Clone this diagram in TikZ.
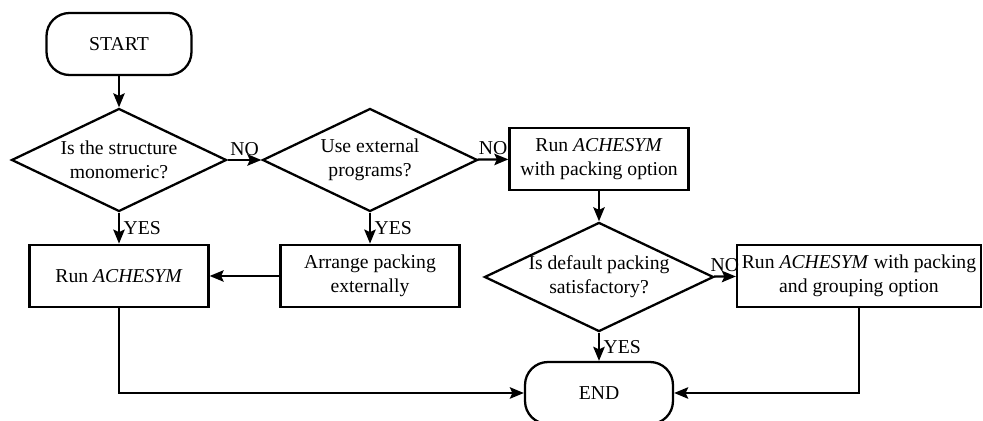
\documentclass[tikz,border=0pt]{standalone}
\usepackage{fontspec}
\setmainfont{Liberation Serif}
\usetikzlibrary{shapes.geometric,arrows.meta}
\begin{document}
\begin{tikzpicture}[
    x=0.02cm, y=-0.02cm,
    every node/.style={font=\fontsize{11.2}{13.6}\selectfont},
    every path/.style={line width=1.3pt},
    >={Stealth[length=8pt,width=6.5pt,inset=1.5pt]},
    terminal/.style={draw, rectangle, rounded corners=0.46cm,
        minimum width=2.9cm, minimum height=1.24cm, inner sep=0pt},
    decision/.style={draw, diamond, aspect=2.1, inner sep=0pt, align=center,
        minimum width=4.3cm, minimum height=2.06cm},
    process/.style={draw, rectangle, align=center, inner sep=1pt,
        minimum width=3.58cm, minimum height=1.25cm},
    answer/.style={inner sep=2pt}
]
\useasboundingbox (0,0) rectangle (983,421);
\node[terminal] (start) at (119,44) {START};
\node[decision] (mono) at (119,160) {Is the structure\\monomeric?};
\node[decision] (external) at (370,160) {Use external\\programs?};
\node[process] (packing) at (599,159) {Run \textit{ACHESYM}\\with packing option};
\node[process] (run) at (119,276) {Run \textit{ACHESYM}};
\node[process] (arrange) at (370,276) {Arrange packing\\externally};
\node[decision] (default) at (599,277) {Is default packing\\satisfactory?};
\node[process, minimum width=4.88cm] (grouping) at (859,276)
    {Run \textit{ACHESYM} with packing\\and grouping option};
\node[terminal, minimum width=2.96cm] (end) at (599,393) {END};

\draw[->] (start) -- (mono);
\draw[->] (mono) -- node[answer, above] {NO} (external);
\draw[->] (external) -- node[answer, above] {NO} (packing);
\draw[->] (mono) -- node[answer, right] {YES} (run);
\draw[->] (external) -- node[answer, right] {YES} (arrange);
\draw[->] (arrange) -- (run);
\draw[->] (packing) -- (default);
\draw[->] (default) -- node[answer, above] {NO} (grouping);
\draw[->] (default) -- node[answer, right] {YES} (end);
\draw[->] (run.south) |- (end.west);
\draw[->] (grouping.south) |- (end.east);
\end{tikzpicture}
\end{document}
